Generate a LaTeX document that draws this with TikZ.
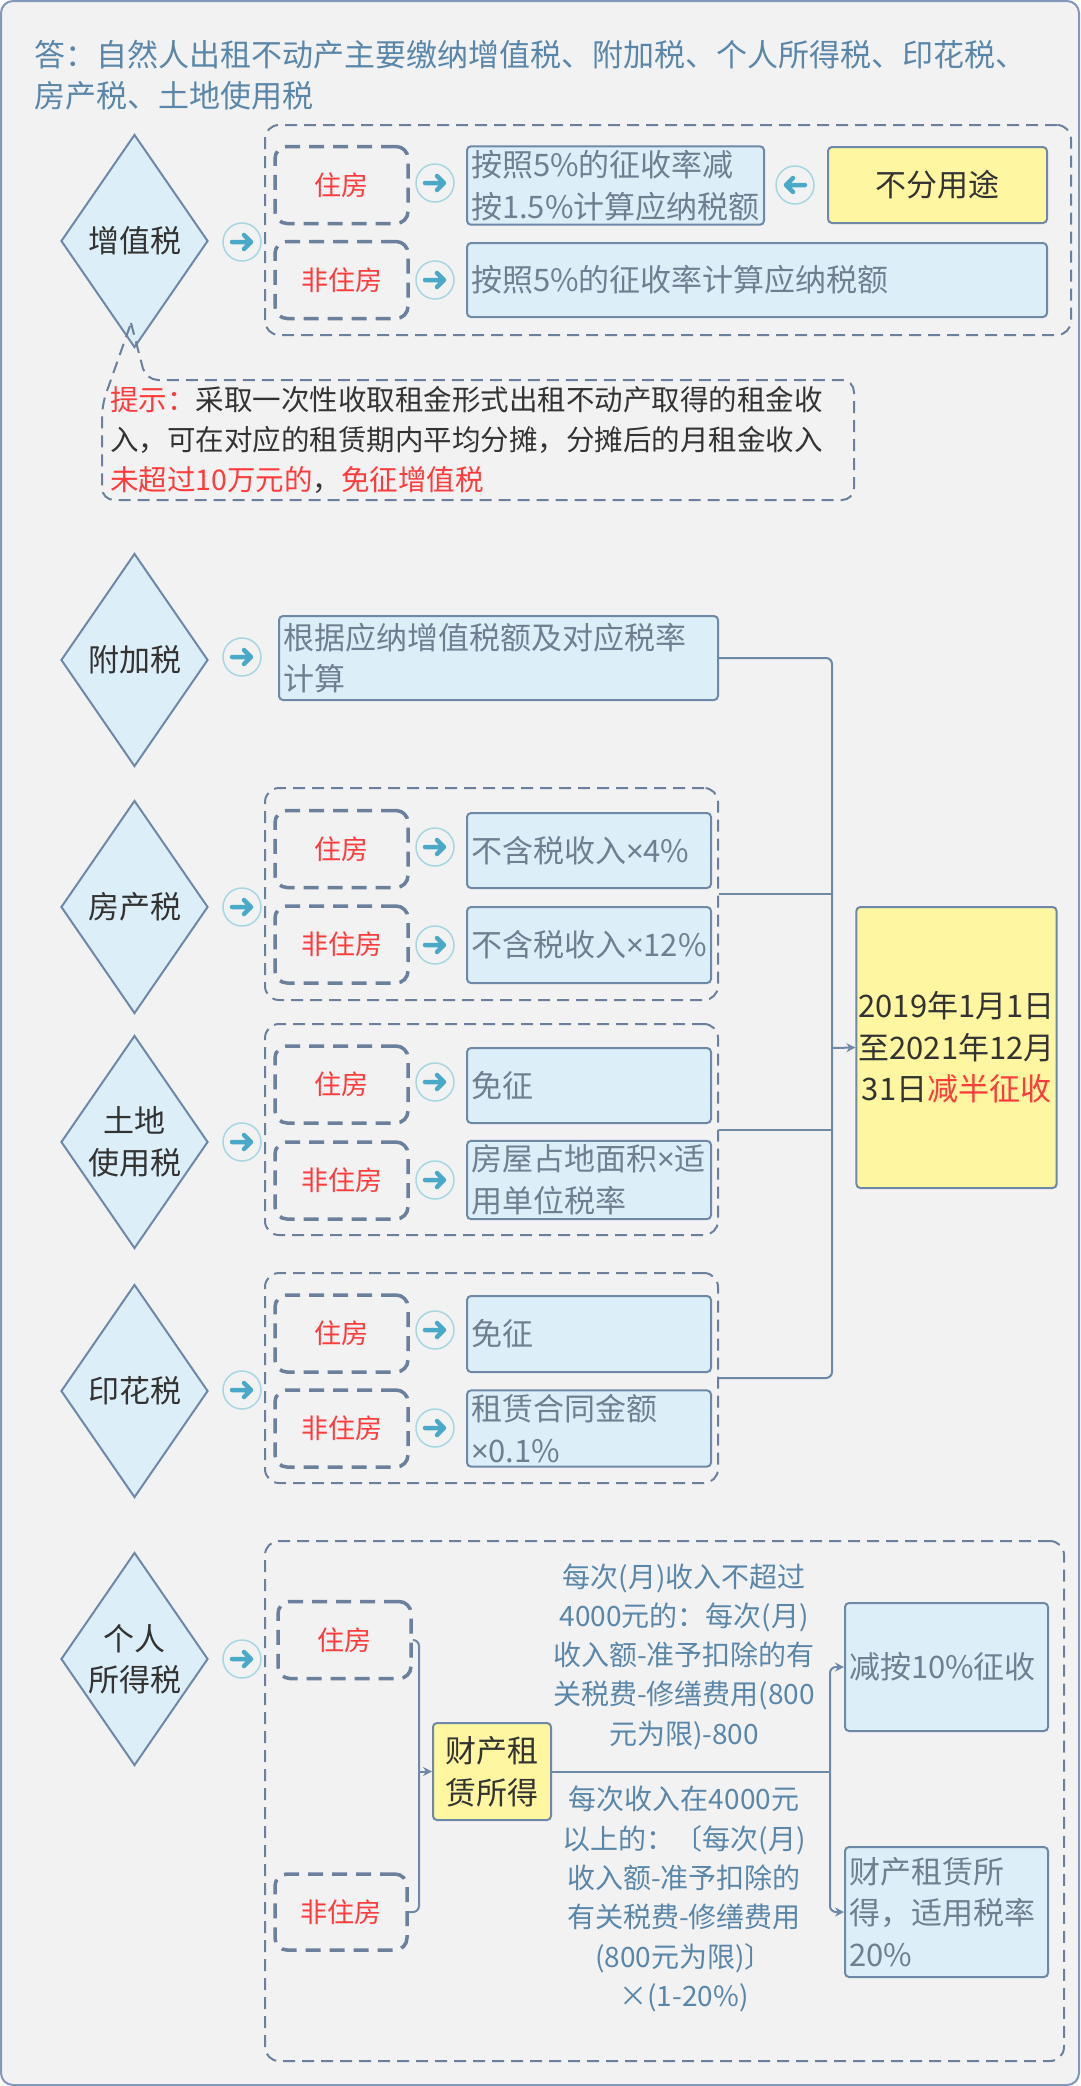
\documentclass[tikz,border=0pt]{standalone}
\usepackage{fontspec}
\newfontfamily\cjk{Noto Sans CJK SC}
\newfontfamily\latin{Noto Sans}
\newcommand\tms{{\latin ×}}
\usetikzlibrary{arrows.meta, positioning, shapes.geometric, calc}
\definecolor{cpaper}{HTML}{F2F2F2}
\definecolor{cframe}{HTML}{8198B8}
\definecolor{cline}{HTML}{6E88A8}
\definecolor{cdash}{HTML}{6A809D}
\definecolor{cblue}{HTML}{DCEEF8}
\definecolor{cyellow}{HTML}{FFF6A1}
\definecolor{csteel}{HTML}{5A87A9}
\definecolor{cgrey}{HTML}{6F7F91}
\definecolor{cdark}{HTML}{333333}
\definecolor{cred}{HTML}{FF3B3B}
\definecolor{cteal}{HTML}{4AA9C6}
\definecolor{cring}{HTML}{A6D7E3}
\tikzset{
  every picture/.style={x=1pt, y=-1pt, line width=2pt},
  txt/.style={font=\cjk\fontsize{31}{41.5}\selectfont},
  memo/.style={font=\cjk\fontsize{28}{39.3}\selectfont, text=csteel, align=center},
  tax/.style={diamond, draw=cline, fill=cblue, minimum width=147pt, minimum height=213pt, inner sep=0pt,
    label={[txt, text=cdark, align=center]center:#1}},
  rule/.style={draw=cline, fill=cblue, rounded corners=4pt, txt, text=cgrey, align=left, inner sep=4pt},
  hl/.style={draw=cline, fill=cyellow, rounded corners=4pt, txt, text=cdark, align=center, inner sep=2pt},
  group/.style={draw=cdash, dash pattern=on 12pt off 7pt, rounded corners=14pt},
  case/.style={draw=cdash, line width=3.5pt, dash pattern=on 15pt off 9pt, rounded corners=12pt, minimum width=133pt, minimum height=77pt, font=\cjk\fontsize{27}{36}\selectfont, text=cred},
  go/.style={circle, draw=cring, line width=1.5pt, minimum size=38pt, inner sep=0pt,
    path picture={\draw[cteal, line width=4.5pt, line cap=round, line join=round, shift={(path picture bounding box.center)}]
      ({-10pt*(#1)},0pt) -- ({9pt*(#1)},0pt) ({2pt*(#1)},7pt) -- ({9pt*(#1)},0pt) -- ({2pt*(#1)},-7pt);}},
  go/.default=1,
  link/.style={draw=cline, rounded corners=6pt},
  arrow/.style={link, -{Stealth[length=9pt, width=9pt]}},
}

\begin{document}
\begin{tikzpicture}
  \useasboundingbox (0,0) rectangle (1080,2086);
  \draw[cframe, fill=cpaper, rounded corners=12pt] (1,1) rectangle (1079,2085);
  \node[txt, text=csteel, align=left, anchor=west] (answer) at (30,75) {答：自然人出租不动产主要缴纳增值税、附加税、个人所得税、印花税、\\房产税、土地使用税};

  % VAT
  \node[tax=增值税] (vat) at (134.5,241) {};
  \node[go] (vatgo) at (242,242) {};
  \node[group, minimum width=806pt, minimum height=210pt] (gvat) at (668,230) {};
  \node[case] (vat1) at (341.5,185) {住房};
  \node[case] (vat2) at (341.5,280) {非住房};
  \node[go] at (435,183) {};
  \node[go] at (435,280) {};
  \node[rule, text width=289pt, minimum height=75pt] (vatres) at (615.5,185.5) {按照5\%的征收率减\\按1.5\%计算应纳税额};
  \node[go=-1] at (795,185) {};
  \node[hl, minimum width=219pt, minimum height=76pt] (anyuse) at (937.5,185) {不分用途};
  \node[rule, text width=572pt, minimum height=74pt] (vatoth) at (757,280) {按照5\%的征收率计算应纳税额};
  \draw[group, rounded corners=12pt] (131,323) -- (146,380) -- (854,380) -- (854,500) -- (102,500) -- (102,405) -- (131,323);
  \node[font=\cjk\fontsize{28.5}{40}\selectfont, text=cdark, align=left, anchor=west] (hint) at (106,440) {\textcolor{cred}{提示：}采取一次性收取租金形式出租不动产取得的租金收\\入，可在对应的租赁期内平均分摊，分摊后的月租金收入\\\textcolor{cred}{未超过10万元的}，\textcolor{cred}{免征增值税}};

  % surcharge
  \node[tax=附加税] (fj) at (134.5,660) {};
  \node[go] at (242,657) {};
  \node[rule, text width=431pt, minimum height=84pt] (fjres) at (498.5,658) {根据应纳增值税额及对应税率\\计算};

  % property tax
  \node[tax=房产税] (fc) at (134.5,907) {};
  \node[go] at (242,907) {};
  \node[group, minimum width=453pt, minimum height=212pt] (gfc) at (491.5,894) {};
  \node[case] (fc1) at (341.5,849) {住房};
  \node[case] (fc2) at (341.5,944.5) {非住房};
  \node[go] at (435,847) {};
  \node[go] at (435,945) {};
  \node[rule, text width=236pt, minimum height=75pt] (fcres1) at (589,850.5) {不含税收入\tms4\%};
  \node[rule, text width=236pt, minimum height=76pt] (fcres2) at (589,945) {不含税收入\tms12\%};

  % land use tax
  \node[tax={土地\\使用税}] (td) at (134.5,1142) {};
  \node[go] at (242,1142) {};
  \node[group, minimum width=453pt, minimum height=211pt] (gtd) at (491.5,1129.5) {};
  \node[case] (td1) at (341.5,1084.5) {住房};
  \node[case] (td2) at (341.5,1180.5) {非住房};
  \node[go] at (435,1082) {};
  \node[go] at (435,1180) {};
  \node[rule, text width=236pt, minimum height=75pt] (tdres1) at (589,1085.5) {免征};
  \node[rule, text width=236pt, minimum height=74pt] (tdres2) at (589,1180) {房屋占地面积\tms 适\\用单位税率};

  % stamp duty
  \node[tax=印花税] (yh) at (134.5,1391) {};
  \node[go] at (242,1390) {};
  \node[group, minimum width=453pt, minimum height=210pt] (gyh) at (491.5,1378) {};
  \node[case] (yh1) at (341.5,1333.5) {住房};
  \node[case] (yh2) at (341.5,1428.5) {非住房};
  \node[go] at (435,1330) {};
  \node[go] at (435,1428) {};
  \node[rule, text width=236pt, minimum height=76pt] (yhres1) at (589,1334) {免征};
  \node[rule, text width=236pt, minimum height=75pt] (yhres2) at (589,1428.5) {租赁合同金额\\\tms0.1\%};

  % half rate
  \node[hl, minimum width=189pt, minimum height=281pt] (half) at (956.5,1047.5) {2019年1月1日\\至2021年12月\\31日\textcolor{cred}{减半征收}};
  \coordinate (trunk) at (832,1048);
  \draw[link] (fjres.east) -| (trunk) |- (gyh.east);
  \draw[link] (gfc.east) -- (gfc.east -| trunk);
  \draw[link] (gtd.east) -- (gtd.east -| trunk);
  \draw[arrow] (trunk) -- (half.west);

  % individual income tax
  \node[tax={个人\\所得税}] (pit) at (134.5,1659) {};
  \node[go] at (242,1659) {};
  \node[group, minimum width=799pt, minimum height=520pt] (gpit) at (664.5,1801) {};
  \node[case] (pit1) at (344.5,1640) {住房};
  \node[case, minimum width=132pt, minimum height=76pt] (pit2) at (341,1912) {非住房};
  \node[hl, minimum width=118pt, minimum height=97pt] (rent) at (492,1771.5) {财产租\\赁所得};
  \node[rule, text width=195pt, minimum height=128pt] (low10) at (946.5,1667) {减按10\%征收};
  \node[rule, text width=195pt, minimum height=130pt] (rate20) at (946.5,1912) {财产租赁所\\得，适用税率\\20\%};
  \coordinate (join) at (419,1771.5);
  \coordinate (fork) at (830,1771.5);
  \draw[link] (pit1.east) -| (join);
  \draw[link] (pit2.east) -| (join);
  \draw[arrow] (join) -- (rent.west);
  \draw[link] (rent.east) -- (fork);
  \draw[arrow] (fork) |- (low10.west);
  \draw[arrow] (fork) |- (rate20.west);
  \node[memo] (upto) at (684,1656.5) {每次(月)收入不超过\\4000元的：每次(月)\\收入额-准予扣除的有\\关税费-修缮费用(800\\元为限)-800};
  \node[memo] (over) at (684,1899) {每次收入在4000元\\以上的：〔每次(月)\\收入额-准予扣除的\\有关税费-修缮费用\\(800元为限)〕\\×(1-20\%)};
\end{tikzpicture}
\end{document}
